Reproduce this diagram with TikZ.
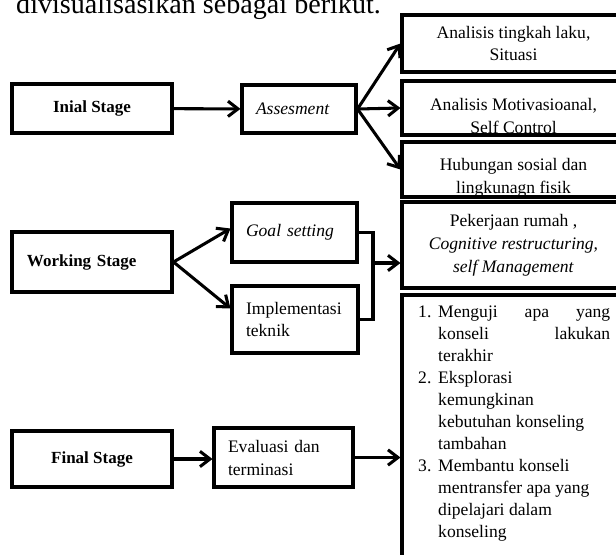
\documentclass[tikz,border=0pt]{standalone}
\usepackage{fontspec}
\setmainfont{Liberation Serif}
\usetikzlibrary{arrows.meta, positioning}

\newcommand{\diagfont}{\fontsize{15}{19.6}\selectfont}
\newcommand{\stagefont}{\fontsize{14.5}{18}\selectfont\bfseries}
\newcommand{\listfont}{\fontsize{15}{18.8}\selectfont}

\begin{document}
\begin{tikzpicture}[
    x=0.03cm, y=-0.03cm,
    stage/.style={rectangle, draw, line width=2.6pt, minimum width=4.8cm, font=\stagefont},
    box/.style={rectangle, draw, line width=2.6pt, inner ysep=0pt, inner xsep=0.42cm, align=left, font=\diagfont},
    wide/.style={rectangle, draw, line width=2.6pt, minimum width=6.69cm, inner sep=0pt, align=center, font=\diagfont},
    arrow/.style={-{Straight Barb[length=3mm, width=4.6mm]}, line width=2.6pt},
    joint/.style={line width=2.6pt}
]
\useasboundingbox (0,0) rectangle (616,554);

% Intro line, cut off at the top
\node[anchor=base west, inner sep=0pt, font=\fontsize{24}{28}\selectfont] (intro) at (16,13) {divisualisasikan sebagai berikut.};

% Stages
\node[stage, minimum height=1.47cm] (inial) at (92,108.5) {Inial Stage};
\node[stage, minimum height=1.8cm, text width=3.9cm, inner xsep=0.45cm, align=left] (working) at (92,262) {Working Stage};
\node[stage, minimum height=1.68cm] (final) at (92,459) {Final Stage};

% Middle column
\node[box, minimum height=1.44cm, text width=2.58cm] (assess) at (299,109) {\textit{Assesment}};
\node[box, minimum height=1.77cm, text width=2.91cm] (goal) at (294.5,232.5) {\textit{Goal setting}};
\node[box, minimum height=2.01cm, text width=2.94cm] (impl) at (295,319.5) {Implementasi\\teknik};
\node[box, minimum height=1.77cm, text width=3.33cm] (eval) at (283.5,457.5) {Evaluasi dan\\terminasi};

% Right column
\node[wide, minimum height=1.71cm] (behav) at (513.5,43.5) {Analisis tingkah laku,\\Situasi};
\node[wide, minimum height=1.62cm] (motiv) at (513.5,108) {};
\node[wide, minimum height=1.65cm] (social) at (513.5,169.5) {};
\begin{scope}
  \clip (motiv.north west) rectangle (motiv.south east);
  \node[align=center, font=\diagfont] (motivtext) at ([yshift=-0.24cm]motiv.center) {Analisis Motivasioanal,\\Self Control};
\end{scope}
\begin{scope}
  \clip (social.north west) rectangle (social.south east);
  \node[align=center, font=\diagfont] (socialtext) at ([yshift=-0.24cm]social.center) {Hubungan sosial dan\\lingkunagn fisik};
\end{scope}
\node[wide, minimum height=2.58cm] (task) at (513.5,245) {Pekerjaan rumah ,\\\textit{Cognitive restructuring,}\\\textit{self Management}};
\node[wide, minimum height=8.55cm] (steps) at (513.5,437.5) {};
\node[anchor=north west, inner sep=0pt, font=\listfont] (steplist) at (418,302) {%
  \begin{tabular}{@{}p{0.6cm}@{}p{5.16cm}@{}}
    1. & Menguji\hfill apa\hfill yang \\
       & konseli\hfill lakukan \\
       & terakhir \\
    2. & Eksplorasi \\
       & kemungkinan \\
       & kebutuhan konseling \\
       & tambahan \\
    3. & Membantu konseli \\
       & mentransfer apa yang \\
       & dipelajari dalam \\
       & konseling
  \end{tabular}};

% Arrows
\draw[arrow] (inial) -- (assess);
\draw[arrow] (assess.east) -- (behav.west);
\draw[arrow] (assess.east) -- (motiv.west);
\draw[arrow] (assess.east) -- (social.west);
\draw[arrow] (working.east) -- ([yshift=0.12cm]goal.west);
\draw[arrow] (working.east) -- ([yshift=0.33cm]impl.west);
\coordinate (join) at (373,263);
\draw[joint] (goal.east) -| (join) |- (impl.east);
\draw[arrow] (join) -- (join -| task.west);
\draw[arrow] (final) -- (final -| eval.west);
\draw[arrow] (eval.east) -- (eval.east -| steps.west);

\end{tikzpicture}
\end{document}
